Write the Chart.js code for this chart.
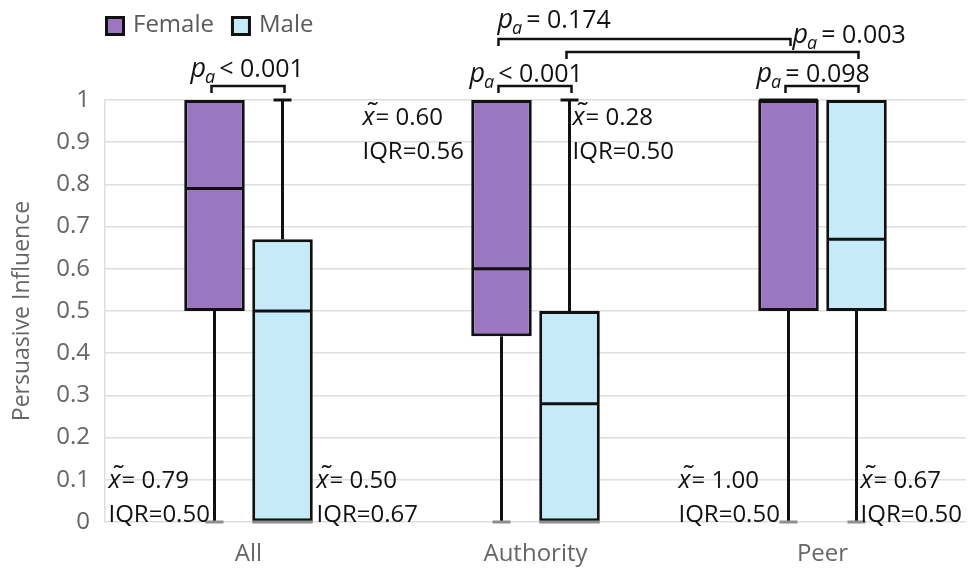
<!DOCTYPE html>
<html>
<head>
<meta charset="utf-8">
<script src="https://cdn.jsdelivr.net/npm/chart.js@4/dist/chart.umd.min.js"></script>
<style>
  html, body { margin: 0; padding: 0; background: #ffffff; }
  canvas { display: block; }
</style>
</head>
<body>
<canvas id="c" width="970" height="571"></canvas>
<script>
// ---- data ----
const categories = ['All', 'Authority', 'Peer'];
const seriesNames = ['Female', 'Male'];

const femaleQ1     = [0.50, 0.44, 0.50];
const femaleQ3     = [1.00, 1.00, 1.00];
const femaleMedian = [0.79, 0.60, 1.00];
const femaleMin    = [0, 0, 0];
const femaleMax    = [1, 1, 1];

const maleQ1     = [0.00, 0.00, 0.50];
const maleQ3     = [0.67, 0.50, 1.00];
const maleMedian = [0.50, 0.28, 0.67];
const maleMin    = [0, 0, 0];
const maleMax    = [1, 1, 1];

const yTickLabels = ['0', '0.1', '0.2', '0.3', '0.4', '0.5', '0.6', '0.7', '0.8', '0.9', '1'];

// pairwise comparisons: endpoints as [category, series], with the adjusted p text
const testFrom = [[0, 0], [1, 0], [2, 0], [1, 0], [1, 1]];
const testTo   = [[0, 1], [1, 1], [2, 1], [2, 0], [2, 1]];
const testText = ['< 0.001', '< 0.001', '= 0.098', '= 0.174', '= 0.003'];

// ---- styling / layout ----
const FONT = '"Open Sans", "Noto Sans", sans-serif';
const COLORS = ['#9b76c1', '#c5eaf8'];
const stats = [
  { q1: femaleQ1, q3: femaleQ3, med: femaleMedian, min: femaleMin, max: femaleMax },
  { q1: maleQ1, q3: maleQ3, med: maleMedian, min: maleMin, max: maleMax }
];
// where the median / IQR note sits, relative to each box centre
const statDx = [[-106, -139, -110], [34, 3, 4]];
const statAtTop = [false, true, false];
// bracket geometry relative to the top of the plot area
const bracketDy = [-14, -14, -14, -61, -48];
const labelDx = [-24, -32, -32, -4, 223];
const labelDy = [-23, -18, -18, -72, -57];

Chart.defaults.font.family = FONT;

function drawMedianNote(ctx, x, base, median, iqr) {
  ctx.fillStyle = '#111';
  ctx.textAlign = 'left';
  ctx.textBaseline = 'alphabetic';
  ctx.font = 'italic 25px ' + FONT;
  ctx.fillText('x', x, base);
  const xw = ctx.measureText('x').width;
  ctx.font = 'italic 28px ' + FONT;
  ctx.fillText('\u02dc', x + 2, base - 3);
  ctx.font = '24px ' + FONT;
  ctx.fillText('= ' + median.toFixed(2), x + xw + 1, base);
  ctx.fillText('IQR=' + iqr.toFixed(2), x, base + 34);
}

function drawP(ctx, x, base, text) {
  ctx.fillStyle = '#111';
  ctx.textAlign = 'left';
  ctx.textBaseline = 'alphabetic';
  ctx.font = 'italic 27px ' + FONT;
  ctx.fillText('p', x, base);
  let w = ctx.measureText('p').width;
  ctx.font = 'italic 18px ' + FONT;
  ctx.fillText('a', x + w - 1, base + 6);
  w += ctx.measureText('a').width + 3;
  ctx.font = '25px ' + FONT;
  ctx.fillText(text, x + w, base);
}

const boxPlot = {
  id: 'boxPlot',
  beforeDatasetsDraw(chart) {
    const ctx = chart.ctx, y = chart.scales.y;
    ctx.save();
    ctx.strokeStyle = '#111';
    ctx.lineWidth = 3;
    stats.forEach((s, d) => {
      chart.getDatasetMeta(d).data.forEach((el, i) => {
        ctx.beginPath();
        if (s.min[i] < s.q1[i]) {
          ctx.moveTo(el.x, y.getPixelForValue(s.q1[i]));
          ctx.lineTo(el.x, y.getPixelForValue(s.min[i]));
        }
        if (s.max[i] > s.q3[i]) {
          ctx.moveTo(el.x, y.getPixelForValue(s.q3[i]));
          ctx.lineTo(el.x, y.getPixelForValue(s.max[i]));
        }
        ctx.stroke();
      });
    });
    ctx.restore();
  },
  afterDatasetsDraw(chart) {
    const ctx = chart.ctx, y = chart.scales.y;
    ctx.save();
    stats.forEach((s, d) => {
      chart.getDatasetMeta(d).data.forEach((el, i) => {
        const half = el.width / 2;
        // median
        ctx.strokeStyle = '#111';
        ctx.lineWidth = 3;
        ctx.beginPath();
        const ym = y.getPixelForValue(s.med[i]);
        ctx.moveTo(el.x - half + 1, ym);
        ctx.lineTo(el.x + half - 1, ym);
        ctx.stroke();
        // whisker caps
        if (s.max[i] > s.q3[i]) {
          const yt = y.getPixelForValue(s.max[i]);
          ctx.beginPath();
          ctx.moveTo(el.x - 9, yt);
          ctx.lineTo(el.x + 9, yt);
          ctx.stroke();
        }
        ctx.strokeStyle = '#8e8e8e';
        if (s.min[i] < s.q1[i]) {
          const yb = y.getPixelForValue(s.min[i]);
          ctx.beginPath();
          ctx.moveTo(el.x - 9, yb);
          ctx.lineTo(el.x + 9, yb);
          ctx.stroke();
        } else if (s.q1[i] === 0) {
          const yb = y.getPixelForValue(0);
          ctx.beginPath();
          ctx.moveTo(el.x - half, yb);
          ctx.lineTo(el.x + half, yb);
          ctx.stroke();
        }
      });
    });
    ctx.restore();
  },
  afterDraw(chart) {
    const ctx = chart.ctx, y = chart.scales.y, area = chart.chartArea;
    ctx.save();
    // median / IQR notes
    stats.forEach((s, d) => {
      chart.getDatasetMeta(d).data.forEach((el, i) => {
        const x = el.x + statDx[d][i];
        const base = statAtTop[i] ? y.getPixelForValue(1) + 25 : y.getPixelForValue(0) - 34;
        drawMedianNote(ctx, x, base, s.med[i], s.q3[i] - s.q1[i]);
      });
    });
    // significance brackets
    ctx.strokeStyle = '#111';
    ctx.lineWidth = 2.5;
    testText.forEach((t, k) => {
      const a = chart.getDatasetMeta(testFrom[k][1]).data[testFrom[k][0]];
      const b = chart.getDatasetMeta(testTo[k][1]).data[testTo[k][0]];
      const by = area.top + bracketDy[k];
      ctx.beginPath();
      ctx.moveTo(a.x - 3, by + 7);
      ctx.lineTo(a.x - 3, by);
      ctx.lineTo(b.x + 2, by);
      ctx.lineTo(b.x + 2, by + 7);
      ctx.stroke();
      drawP(ctx, a.x + labelDx[k], area.top + labelDy[k], t);
    });
    // legend
    let lx = area.left;
    ctx.font = '24px ' + FONT;
    ctx.textBaseline = 'middle';
    seriesNames.forEach((name, d) => {
      ctx.fillStyle = COLORS[d];
      ctx.fillRect(lx + 1.5, 17.5, 17, 17);
      ctx.strokeStyle = '#111';
      ctx.lineWidth = 3;
      ctx.strokeRect(lx + 1.5, 17.5, 17, 17);
      ctx.fillStyle = '#5a5a5a';
      ctx.fillText(name, lx + 28, 25);
      lx += 28 + ctx.measureText(name).width + 17;
    });
    ctx.restore();
  }
};

new Chart(document.getElementById('c'), {
  type: 'bar',
  data: {
    labels: categories,
    datasets: seriesNames.map((name, d) => ({
      label: name,
      data: categories.map((_, i) => [stats[d].q1[i], stats[d].q3[i]]),
      backgroundColor: COLORS[d],
      borderColor: '#111',
      borderWidth: 3,
      borderSkipped: false,
      categoryPercentage: 0.474,
      barPercentage: 0.89
    }))
  },
  options: {
    responsive: false,
    animation: false,
    devicePixelRatio: 1,
    layout: { padding: { left: 0, right: 4, top: 100, bottom: 0 } },
    plugins: { legend: { display: false }, tooltip: { enabled: false } },
    scales: {
      x: {
        grid: { display: false, drawTicks: false },
        border: { display: false },
        ticks: { color: '#666', font: { size: 24 }, padding: 18 },
        afterFit(s) { s.height = 49; }
      },
      y: {
        min: 0,
        max: 1,
        ticks: {
          stepSize: 0.1,
          color: '#666',
          font: { size: 24 },
          padding: 15,
          callback: (v, i) => yTickLabels[i]
        },
        grid: { color: '#dedede', lineWidth: 1.5, drawTicks: false },
        border: { display: true, color: '#dedede', width: 1.5 },
        title: {
          display: true,
          text: 'Persuasive Influence',
          color: '#666',
          font: { size: 23 },
          padding: { top: 9, bottom: 0 }
        },
        afterFit(s) { s.width = 105; }
      }
    }
  },
  plugins: [boxPlot]
});
</script>
</body>
</html>
